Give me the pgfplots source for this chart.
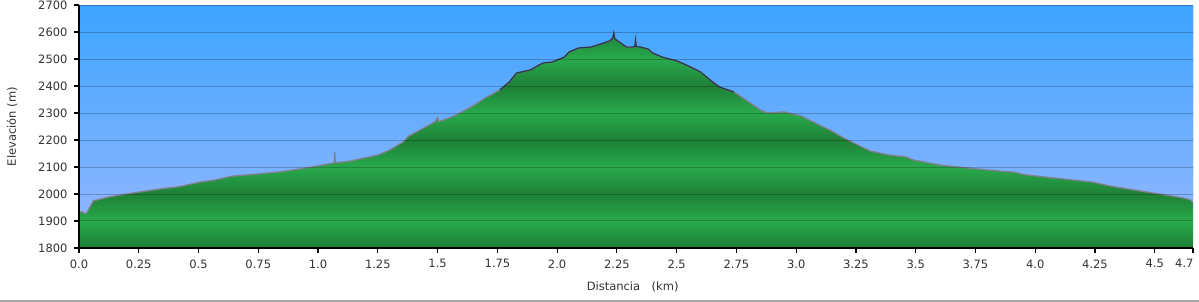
\documentclass[border=0pt]{standalone}
\usepackage{pgfplots}
\pgfplotsset{compat=1.18}
\usepackage{pgfplotstable}
\usepackage{fontspec}
\setmainfont{DejaVu Sans}
\definecolor{skytop}{RGB}{60,164,255}
\definecolor{skybot}{RGB}{140,181,255}
\definecolor{gdark}{RGB}{30,128,54}
\definecolor{glight}{RGB}{40,170,76}
\definecolor{prof}{RGB}{128,128,140}
\definecolor{profdark}{RGB}{45,55,75}

\pgfplotstableread{
x y
0.000 1933
0.015 1934
0.025 1926
0.032 1930
0.045 1950
0.060 1975
0.080 1979
0.130 1990
0.200 2000
0.250 2007
0.350 2020
0.420 2027
0.500 2043
0.570 2052
0.640 2066
0.750 2074
0.850 2083
0.925 2093
1.000 2104
1.068 2115
1.070 2155
1.072 2115
1.134 2122
1.250 2144
1.300 2163
1.356 2193
1.380 2215
1.427 2237
1.490 2268
1.500 2283
1.505 2268
1.570 2289
1.640 2322
1.700 2356
1.760 2385
1.800 2415
1.830 2448
1.887 2459
1.940 2485
1.980 2489
2.030 2507
2.050 2526
2.090 2541
2.140 2544
2.180 2555
2.220 2567
2.233 2578
2.237 2596
2.241 2575
2.260 2563
2.290 2544
2.310 2544
2.325 2546
2.328 2570
2.331 2546
2.350 2544
2.380 2537
2.400 2522
2.440 2507
2.500 2493
2.540 2478
2.600 2452
2.650 2415
2.680 2396
2.740 2378
2.790 2348
2.850 2311
2.880 2300
2.950 2304
3.020 2289
3.140 2237
3.200 2207
3.310 2159
3.390 2144
3.460 2137
3.490 2126
3.600 2107
3.720 2096
3.850 2085
3.910 2081
3.950 2072
4.060 2061
4.240 2044
4.310 2030
4.440 2011
4.520 2000
4.620 1985
4.650 1978
4.660 1967
}\profile

\begin{document}
\begin{tikzpicture}[x=1pt,y=1pt]
\useasboundingbox (0,0) rectangle (1199,302);
\fill[white] (0,0) rectangle (1199,302);
\draw[black!35, line width=1.5pt] (0,1) -- (1199,1);
\begin{axis}[
  at={(79pt,54pt)}, anchor=south west,
  scale only axis, width=1114pt, height=243pt,
  xmin=0, xmax=4.66, ymin=1800, ymax=2700,
  axis lines=left, axis line style={-, line width=1.6pt, black},
  tick align=outside, major tick length=5pt,
  tick style={black, line width=1.2pt},
  xtick={0,0.25,0.5,0.75,1,1.25,1.5,1.75,2,2.25,2.5,2.75,3,3.25,3.5,3.75,4,4.25,4.5},
  xticklabels={0.0,0.25,0.5,0.75,1.0,1.25,1.5,1.75,2.0,2.25,2.5,2.75,3.0,3.25,3.5,3.75,4.0,4.25,4.5},
  extra x ticks={4.66}, extra x tick labels={4.7},
  extra x tick style={xticklabel style={anchor=north east, xshift=4pt}},
  ytick={1800,1900,...,2700},
  ymajorgrids, grid style={black, opacity=0.22, line width=1pt},
  axis on top,
  /pgf/number format/assume math mode=true,
  /pgf/number format/set thousands separator={},
  tick label style={font=\fontsize{11.5}{13}\selectfont, text=black!80},
  xticklabel style={yshift=-3pt},
  yticklabel style={xshift=-3pt},
  xlabel={Distancia\quad(km)}, ylabel={Elevación (m)},
  every axis x label/.style={at={(axis description cs:0.497,-0.16)}, anchor=center, font=\fontsize{11.5}{13}\selectfont, text=black!80},
  every axis y label/.style={at={(axis description cs:-0.0601,0.5)}, anchor=center, rotate=90, font=\fontsize{11.5}{13}\selectfont, text=black!80},
]
\shade[bottom color=gdark, top color=glight] (axis cs:0,1800) rectangle (axis cs:4.66,1900);
\shade[bottom color=glight, top color=gdark] (axis cs:0,1900) rectangle (axis cs:4.66,2000);
\shade[bottom color=gdark, top color=glight] (axis cs:0,2000) rectangle (axis cs:4.66,2100);
\shade[bottom color=glight, top color=gdark] (axis cs:0,2100) rectangle (axis cs:4.66,2200);
\shade[bottom color=gdark, top color=glight] (axis cs:0,2200) rectangle (axis cs:4.66,2300);
\shade[bottom color=glight, top color=gdark] (axis cs:0,2300) rectangle (axis cs:4.66,2400);
\shade[bottom color=gdark, top color=glight] (axis cs:0,2400) rectangle (axis cs:4.66,2500);
\shade[bottom color=glight, top color=gdark] (axis cs:0,2500) rectangle (axis cs:4.66,2600);
\shade[bottom color=gdark, top color=glight] (axis cs:0,2600) rectangle (axis cs:4.66,2700);
\addplot[draw=none, top color=skytop, bottom color=skybot] table {\profile} -- (axis cs:4.66,2700) -- (axis cs:0,2700) -- cycle;
\addplot[prof, line width=1.3pt] table {\profile};
\addplot[profdark, line width=1.2pt, restrict x to domain=1.74:2.76] table {\profile};
\end{axis}
\end{tikzpicture}
\end{document}
